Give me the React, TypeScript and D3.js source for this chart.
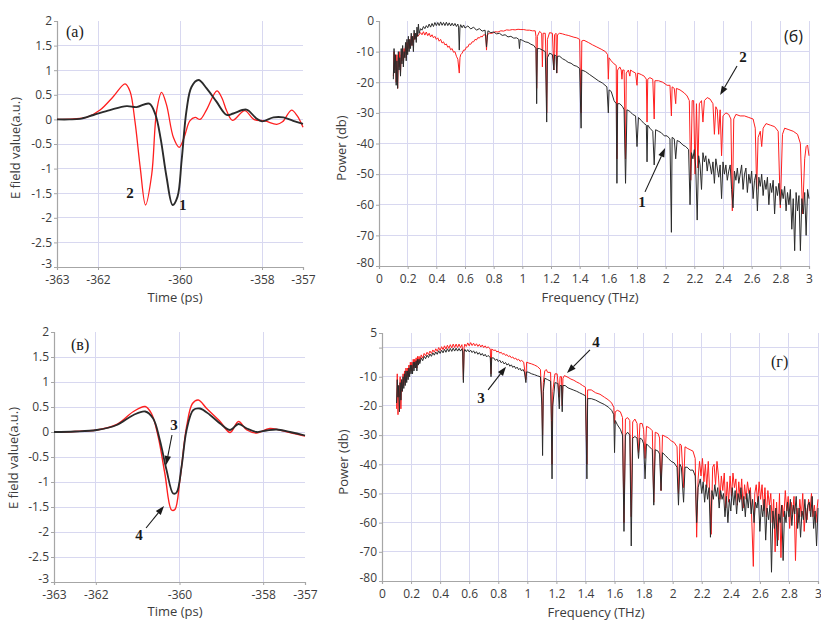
import React, { useRef, useEffect } from "react";
import * as d3 from "d3";

// axis ticks
const timeTicks = [-363, -362, -360, -358, -357];
const timeGrid = [-362, -360, -358];
const fieldTicks = [-3, -2.5, -2, -1.5, -1, -0.5, 0, 0.5, 1, 1.5, 2];
const freqTicks = [0, 0.2, 0.4, 0.6, 0.8, 1, 1.2, 1.4, 1.6, 1.8, 2, 2.2, 2.4, 2.6, 2.8, 3];
const powerTicksB = [0, -10, -20, -30, -40, -50, -60, -70, -80];
const powerTicksG = [5, 0, -10, -20, -30, -40, -50, -60, -70, -80];

// (a) time-domain pulses, [time ps, field a.u.]
const pulse1 = [[-363, 0], [-362.7, 0], [-362.44, 0.01], [-362.11, 0.09], [-361.71, 0.19], [-361.3, 0.27], [-361.06, 0.25], [-360.75, 0.32], [-360.6, 0.1], [-360.47, -0.4], [-360.33, -1.16], [-360.18, -1.74], [-360.06, -1.57], [-359.96, -0.83], [-359.84, 0.19], [-359.72, 0.66], [-359.55, 0.8], [-359.35, 0.63], [-359.11, 0.36], [-358.86, 0.09], [-358.7, 0.12], [-358.38, 0.2], [-358.15, 0.03], [-358.0, -0.04], [-357.72, 0.04], [-357.48, 0.04], [-357.24, -0.03], [-357, -0.09]];
const pulse2 = [[-363, 0], [-362.6, 0.01], [-362.28, 0.04], [-361.95, 0.19], [-361.63, 0.46], [-361.34, 0.72], [-361.22, 0.57], [-361.1, -0.03], [-360.97, -0.98], [-360.84, -1.74], [-360.69, -1.12], [-360.57, 0.17], [-360.45, 0.55], [-360.33, 0.3], [-360.16, -0.37], [-360.02, -0.57], [-359.9, -0.37], [-359.76, -0.03], [-359.63, 0.04], [-359.51, 0.0], [-359.35, 0.2], [-359.1, 0.58], [-358.98, 0.44], [-358.86, 0.17], [-358.72, -0.02], [-358.42, 0.18], [-358.2, 0.0], [-357.93, -0.03], [-357.64, -0.1], [-357.5, -0.05], [-357.28, 0.19], [-357.14, 0.07], [-357, -0.16]];

// (в) time-domain pulses
const pulse3 = [[-363, 0], [-362.5, 0.01], [-361.98, 0.04], [-361.5, 0.14], [-361.1, 0.34], [-360.82, 0.41], [-360.63, 0.27], [-360.47, -0.16], [-360.31, -0.76], [-360.15, -1.23], [-360.07, -1.21], [-359.95, -0.69], [-359.83, 0.04], [-359.67, 0.44], [-359.51, 0.47], [-359.27, 0.34], [-359.03, 0.17], [-358.79, 0.04], [-358.59, 0.16], [-358.39, 0.07], [-358.15, 0.0], [-357.92, 0.03], [-357.68, 0.05], [-357.36, 0.0], [-357, -0.07]];
const pulse4 = [[-363, 0], [-362.5, 0.01], [-361.98, 0.04], [-361.5, 0.15], [-361.1, 0.41], [-360.82, 0.51], [-360.67, 0.37], [-360.51, -0.09], [-360.35, -0.83], [-360.19, -1.56], [-360.11, -1.55], [-359.99, -0.96], [-359.83, 0.11], [-359.69, 0.57], [-359.55, 0.64], [-359.35, 0.47], [-359.03, 0.21], [-358.79, -0.01], [-358.59, 0.21], [-358.39, 0.04], [-358.15, -0.02], [-357.84, 0.07], [-357.36, -0.01], [-357, -0.08]];

// (б) spectra, [freq THz, power dB]
const spec1 = [[0.10, -19], [0.105, -9], [0.11, -17], [0.115, -11], [0.12, -21], [0.125, -13], [0.13, -22], [0.135, -10], [0.14, -16], [0.145, -12], [0.15, -18], [0.155, -9], [0.16, -14], [0.165, -8], [0.17, -15], [0.175, -10], [0.18, -12], [0.185, -7], [0.19, -13], [0.195, -6], [0.2, -11], [0.205, -5], [0.21, -10], [0.215, -6], [0.22, -9], [0.225, -4], [0.23, -8], [0.235, -5], [0.24, -10], [0.245, -3], [0.25, -6], [0.255, -4], [0.26, -7], [0.265, -2], [0.27, -5], [0.275, -1], [0.28, -4], [0.29, -2.5], [0.30, -3], [0.31, -1.8], [0.32, -2.5], [0.33, -1.5], [0.34, -2.2], [0.35, -1], [0.36, -2], [0.37, -0.8], [0.38, -1.8], [0.39, -0.5], [0.40, -1.5], [0.41, -0.5], [0.42, -1.5], [0.43, -0.3], [0.44, -1.4], [0.45, -0.5], [0.46, -1.5], [0.47, -0.4], [0.48, -1.5], [0.49, -0.6], [0.50, -1.6], [0.51, -0.7], [0.52, -1.6], [0.53, -0.8], [0.54, -1.8], [0.55, -1], [0.555, -2], [0.56, -9.5], [0.565, -2], [0.57, -1.2], [0.58, -2.2], [0.59, -1.3], [0.60, -2.3], [0.62, -1.6], [0.64, -2.6], [0.66, -2], [0.68, -3], [0.70, -2.5], [0.72, -3.3], [0.74, -3], [0.75, -8.5], [0.76, -3.2], [0.78, -3.8], [0.80, -3.6], [0.82, -4.2], [0.84, -4], [0.86, -4.7], [0.88, -4.5], [0.90, -5.2], [0.92, -5], [0.94, -5.6], [0.96, -5.5], [0.975, -6], [0.98, -9], [0.985, -6], [1.0, -6.3], [1.02, -6.8], [1.04, -7], [1.06, -7.6], [1.08, -8], [1.095, -9], [1.10, -27], [1.105, -9], [1.12, -9], [1.14, -9.5], [1.16, -10], [1.165, -20], [1.17, -33], [1.175, -12], [1.19, -10.5], [1.21, -11], [1.22, -16], [1.225, -11], [1.235, -11.5], [1.24, -17], [1.245, -11.5], [1.26, -11.5], [1.28, -12.3], [1.30, -12.8], [1.32, -13.5], [1.34, -13.8], [1.36, -14.5], [1.38, -14.8], [1.40, -15.5], [1.41, -35], [1.415, -16], [1.44, -16.5], [1.47, -17.5], [1.50, -18.5], [1.53, -19.5], [1.56, -20.3], [1.59, -21.5], [1.60, -30], [1.605, -22.5], [1.62, -23], [1.64, -26], [1.655, -27], [1.66, -53], [1.665, -27], [1.68, -27], [1.70, -28], [1.71, -29], [1.72, -53], [1.73, -29], [1.75, -29.5], [1.77, -30.5], [1.79, -31], [1.80, -41], [1.81, -31.5], [1.83, -32.5], [1.85, -33.5], [1.865, -34], [1.87, -46], [1.875, -34], [1.89, -35], [1.91, -36], [1.92, -47], [1.93, -35.5], [1.95, -36], [1.97, -36.5], [1.99, -37.5], [2.01, -37.5], [2.03, -38.5], [2.04, -69], [2.045, -38], [2.06, -38.5], [2.07, -45], [2.08, -39], [2.10, -39.5], [2.12, -40.5], [2.14, -41], [2.16, -42], [2.17, -60], [2.18, -43], [2.19, -45], [2.20, -42], [2.21, -48], [2.22, -65], [2.23, -44], [2.24, -47], [2.25, -55], [2.26, -43], [2.27, -46], [2.28, -44], [2.29, -49], [2.30, -45], [2.31, -47], [2.32, -50], [2.33, -46], [2.34, -53], [2.35, -45], [2.36, -48], [2.37, -51], [2.38, -47], [2.39, -58], [2.40, -46], [2.41, -50], [2.42, -47], [2.43, -52], [2.44, -49], [2.45, -47], [2.46, -55], [2.47, -61], [2.48, -49], [2.49, -52], [2.50, -48], [2.51, -53], [2.52, -50], [2.53, -47], [2.54, -55], [2.55, -50], [2.56, -48], [2.57, -56], [2.58, -50], [2.59, -53], [2.60, -49], [2.61, -58], [2.62, -52], [2.63, -50], [2.64, -62], [2.65, -51], [2.66, -54], [2.67, -50], [2.68, -57], [2.69, -52], [2.70, -55], [2.71, -51], [2.72, -60], [2.73, -53], [2.74, -56], [2.75, -52], [2.76, -63], [2.77, -54], [2.78, -57], [2.79, -53], [2.80, -60], [2.81, -55], [2.82, -58], [2.83, -54], [2.84, -62], [2.85, -56], [2.86, -60], [2.87, -55], [2.88, -68], [2.89, -58], [2.90, -75], [2.91, -56], [2.92, -62], [2.93, -57], [2.94, -75], [2.95, -58], [2.96, -63], [2.97, -56], [2.98, -70], [2.99, -55], [3.0, -58]];
const spec2 = [[0.10, -18], [0.105, -10], [0.11, -16], [0.115, -12], [0.12, -20], [0.125, -11], [0.13, -22], [0.135, -12], [0.14, -15], [0.145, -10], [0.15, -17], [0.155, -11], [0.16, -13], [0.165, -9], [0.17, -14], [0.175, -9], [0.18, -11], [0.185, -8], [0.19, -12], [0.195, -7], [0.2, -10], [0.205, -6], [0.21, -9], [0.215, -6], [0.22, -8], [0.225, -5], [0.23, -8], [0.235, -5], [0.24, -7], [0.245, -4], [0.25, -6], [0.255, -5], [0.26, -6], [0.265, -4], [0.27, -5], [0.28, -4.5], [0.29, -3.8], [0.30, -4.5], [0.31, -3.5], [0.32, -4.6], [0.33, -3.6], [0.34, -4.8], [0.35, -4], [0.36, -5.2], [0.37, -4.5], [0.38, -5.5], [0.39, -5], [0.40, -6], [0.41, -5.5], [0.42, -6.6], [0.43, -6], [0.44, -7.2], [0.45, -6.8], [0.46, -7.8], [0.47, -7.5], [0.48, -8.6], [0.49, -8.2], [0.50, -9.4], [0.51, -9], [0.52, -10.2], [0.53, -10], [0.54, -11.5], [0.55, -12.5], [0.56, -17], [0.565, -12], [0.57, -11], [0.58, -10.5], [0.59, -9.5], [0.60, -9.5], [0.61, -8.5], [0.62, -8.5], [0.63, -7.5], [0.64, -7.6], [0.65, -6.8], [0.66, -6.8], [0.67, -6], [0.68, -6.2], [0.69, -5.4], [0.70, -5.6], [0.71, -5], [0.72, -5.2], [0.73, -4.5], [0.745, -4.6], [0.75, -9.5], [0.755, -4.5], [0.77, -4], [0.79, -4], [0.81, -3.5], [0.83, -3.6], [0.85, -3.2], [0.87, -3.3], [0.89, -2.9], [0.91, -3], [0.93, -2.8], [0.95, -2.9], [0.97, -2.7], [0.99, -2.8], [1.01, -2.8], [1.03, -3], [1.05, -3], [1.07, -3.2], [1.09, -3.2], [1.095, -5], [1.10, -22], [1.105, -5], [1.12, -3.4], [1.135, -4], [1.14, -15], [1.145, -4], [1.16, -4], [1.165, -12], [1.17, -30], [1.175, -6], [1.19, -3.8], [1.21, -4], [1.22, -16], [1.225, -4.5], [1.235, -4], [1.24, -17], [1.245, -4.5], [1.26, -4], [1.28, -4.2], [1.30, -4.5], [1.32, -4.7], [1.34, -5], [1.36, -5.3], [1.38, -5.5], [1.40, -6], [1.41, -30], [1.415, -6.5], [1.43, -6.3], [1.46, -7], [1.49, -7.8], [1.52, -8.5], [1.55, -9.2], [1.58, -10], [1.595, -11], [1.60, -19], [1.605, -12], [1.62, -13], [1.64, -14], [1.655, -14.5], [1.66, -45], [1.665, -16], [1.68, -15], [1.69, -16], [1.695, -19], [1.70, -16], [1.71, -16], [1.72, -45], [1.725, -17], [1.74, -16], [1.75, -18], [1.755, -16], [1.77, -16.5], [1.79, -17], [1.80, -21], [1.805, -17], [1.83, -17.5], [1.85, -18], [1.865, -19], [1.87, -33], [1.875, -19], [1.89, -18.5], [1.91, -19], [1.92, -32], [1.925, -19.5], [1.95, -19.5], [1.98, -20], [2.01, -21], [2.03, -21], [2.04, -31], [2.045, -21.5], [2.06, -22], [2.07, -27], [2.075, -22], [2.10, -22.5], [2.13, -23.5], [2.15, -24.5], [2.165, -26], [2.175, -52], [2.185, -26], [2.195, -26], [2.205, -50], [2.215, -27], [2.225, -48], [2.235, -27], [2.25, -26], [2.26, -33], [2.27, -26], [2.29, -25], [2.31, -25.5], [2.33, -27], [2.34, -37], [2.35, -28], [2.36, -29], [2.37, -37], [2.38, -29], [2.39, -44], [2.40, -31], [2.42, -30], [2.44, -30.5], [2.455, -32], [2.465, -62], [2.475, -32], [2.49, -30.5], [2.52, -31], [2.55, -31], [2.58, -31.5], [2.61, -32], [2.625, -35], [2.635, -55], [2.645, -38], [2.66, -36], [2.67, -41], [2.68, -35], [2.70, -33.5], [2.73, -34], [2.76, -34.5], [2.785, -36], [2.80, -61], [2.815, -37], [2.83, -35], [2.86, -35.5], [2.89, -36], [2.92, -37], [2.94, -40], [2.955, -63], [2.97, -45], [2.98, -41], [2.99, -40.5], [3.0, -44]];

// (г) spectra
const spec3 = [[0.10, -19], [0.105, -11], [0.11, -17], [0.115, -13], [0.12, -22], [0.125, -12], [0.13, -18], [0.135, -11], [0.14, -15], [0.145, -10], [0.15, -14], [0.155, -9], [0.16, -13], [0.165, -8], [0.17, -12], [0.175, -8], [0.18, -11], [0.185, -7], [0.19, -10], [0.195, -6], [0.20, -9], [0.205, -6], [0.21, -9], [0.215, -5], [0.22, -8], [0.225, -5], [0.23, -7], [0.235, -4.5], [0.24, -8], [0.245, -4], [0.25, -6], [0.255, -4], [0.26, -5.5], [0.27, -3.5], [0.28, -4.5], [0.29, -3], [0.30, -3.8], [0.31, -2.6], [0.32, -3.4], [0.33, -2.2], [0.34, -3], [0.35, -1.8], [0.36, -2.6], [0.37, -1.5], [0.38, -2.3], [0.39, -1.1], [0.40, -2], [0.41, -0.9], [0.42, -1.8], [0.43, -0.6], [0.44, -1.6], [0.45, -0.4], [0.46, -1.4], [0.47, -0.3], [0.48, -1.3], [0.49, -0.2], [0.50, -1.2], [0.51, -0.2], [0.52, -1.2], [0.53, -0.3], [0.54, -1.2], [0.55, -0.4], [0.555, -1.5], [0.56, -12], [0.565, -1.5], [0.57, -0.6], [0.58, -1.4], [0.59, -0.7], [0.60, -1.5], [0.61, -0.9], [0.62, -1.7], [0.63, -1.1], [0.64, -2], [0.65, -1.4], [0.66, -2.3], [0.67, -1.7], [0.68, -2.6], [0.69, -2], [0.70, -2.9], [0.71, -2.3], [0.72, -3.2], [0.73, -2.7], [0.745, -3.4], [0.75, -10], [0.755, -3.5], [0.77, -3.6], [0.78, -4.4], [0.79, -3.9], [0.80, -4.8], [0.81, -4.3], [0.82, -5.2], [0.83, -4.7], [0.84, -5.6], [0.85, -5.1], [0.86, -6], [0.87, -5.5], [0.88, -6.4], [0.89, -5.9], [0.90, -6.8], [0.91, -6.3], [0.92, -7.2], [0.93, -6.7], [0.94, -7.6], [0.95, -7.1], [0.96, -8], [0.97, -7.5], [0.98, -8.4], [0.99, -12], [0.995, -8.3], [1.01, -8.5], [1.03, -9], [1.05, -9.3], [1.07, -9.7], [1.09, -10], [1.10, -20], [1.105, -37], [1.11, -15], [1.12, -10.5], [1.14, -11], [1.16, -11.5], [1.165, -25], [1.17, -45], [1.175, -20], [1.19, -12], [1.21, -12.3], [1.22, -21], [1.225, -13], [1.235, -13], [1.24, -22], [1.245, -13], [1.26, -13], [1.28, -13.8], [1.30, -14.2], [1.32, -14.6], [1.34, -15], [1.36, -15.5], [1.38, -16], [1.40, -16.5], [1.41, -45], [1.415, -17.5], [1.44, -17.5], [1.47, -18], [1.50, -18.8], [1.53, -19.5], [1.56, -20.5], [1.58, -21.5], [1.595, -23], [1.60, -36], [1.605, -25], [1.62, -26.5], [1.64, -28], [1.655, -30], [1.665, -63], [1.675, -30], [1.69, -29], [1.705, -30], [1.715, -68], [1.725, -31], [1.74, -30.5], [1.755, -31], [1.765, -38], [1.775, -31], [1.79, -31.5], [1.80, -33], [1.81, -45], [1.82, -33], [1.84, -34], [1.86, -35], [1.87, -54], [1.88, -35], [1.90, -35.5], [1.91, -36.5], [1.92, -49], [1.93, -36], [1.95, -37], [1.97, -38], [1.99, -39], [2.01, -39.5], [2.03, -41], [2.04, -54], [2.05, -40], [2.06, -41], [2.075, -53], [2.085, -41], [2.10, -41], [2.12, -42], [2.14, -42], [2.155, -44], [2.165, -60], [2.175, -48], [2.19, -45], [2.20, -50], [2.21, -46], [2.22, -53], [2.23, -47], [2.24, -52], [2.25, -48], [2.26, -65], [2.27, -49], [2.28, -52], [2.29, -47], [2.30, -51], [2.31, -48], [2.32, -55], [2.33, -49], [2.34, -52], [2.35, -50], [2.36, -58], [2.37, -51], [2.38, -60], [2.39, -52], [2.40, -56], [2.41, -48], [2.42, -54], [2.43, -49], [2.44, -57], [2.45, -50], [2.46, -53], [2.47, -48], [2.48, -56], [2.49, -51], [2.50, -58], [2.51, -50], [2.52, -55], [2.53, -49], [2.54, -57], [2.55, -52], [2.56, -60], [2.57, -53], [2.58, -55], [2.59, -51], [2.60, -63], [2.61, -54], [2.62, -58], [2.63, -52], [2.64, -66], [2.65, -55], [2.66, -59], [2.67, -54], [2.68, -77], [2.69, -56], [2.70, -62], [2.71, -55], [2.72, -68], [2.73, -57], [2.74, -60], [2.75, -54], [2.76, -73], [2.77, -56], [2.78, -60], [2.79, -53], [2.80, -58], [2.81, -52], [2.82, -61], [2.83, -54], [2.84, -57], [2.85, -51], [2.86, -62], [2.87, -55], [2.88, -65], [2.89, -56], [2.90, -59], [2.91, -52], [2.92, -60], [2.93, -54], [2.94, -53], [2.95, -58], [2.96, -51], [2.97, -62], [2.98, -56], [2.99, -68], [3.0, -55]];
const spec4 = [[0.10, -21], [0.105, -9], [0.11, -23], [0.115, -13], [0.12, -17], [0.125, -10], [0.13, -21], [0.135, -11], [0.14, -15], [0.145, -9], [0.15, -13], [0.155, -8], [0.16, -12], [0.165, -7], [0.17, -11], [0.175, -7], [0.18, -10], [0.185, -6], [0.19, -9], [0.195, -5], [0.20, -8], [0.205, -5], [0.21, -8], [0.215, -4], [0.22, -7], [0.225, -4], [0.23, -6], [0.235, -3.5], [0.24, -7], [0.245, -3], [0.25, -5], [0.255, -3], [0.26, -4.5], [0.27, -2.5], [0.28, -3.6], [0.29, -2], [0.30, -2.8], [0.31, -1.6], [0.32, -2.4], [0.33, -1.2], [0.34, -2], [0.35, -0.8], [0.36, -1.6], [0.37, -0.4], [0.38, -1.3], [0.39, 0], [0.40, -1], [0.41, 0.3], [0.42, -0.7], [0.43, 0.6], [0.44, -0.5], [0.45, 0.8], [0.46, -0.3], [0.47, 1], [0.48, -0.1], [0.49, 1.2], [0.50, 0], [0.51, 1.2], [0.52, 0], [0.53, 1.2], [0.54, 0], [0.55, 1], [0.555, -1], [0.56, -11], [0.565, 0], [0.57, 1.2], [0.58, 0.4], [0.59, 1.6], [0.60, 0.6], [0.61, 1.7], [0.62, 0.7], [0.63, 1.5], [0.64, 0.6], [0.65, 1.3], [0.66, 0.4], [0.67, 1.1], [0.68, 0.2], [0.69, 0.9], [0.70, 0], [0.71, 0.6], [0.72, -0.2], [0.73, 0.3], [0.745, -0.5], [0.75, -9], [0.755, -0.5], [0.77, -1], [0.78, -0.8], [0.79, -1.5], [0.80, -1.2], [0.81, -1.9], [0.82, -1.6], [0.83, -2.3], [0.84, -2], [0.85, -2.7], [0.86, -2.4], [0.87, -3.1], [0.88, -2.8], [0.89, -3.5], [0.90, -3.2], [0.91, -3.9], [0.92, -3.6], [0.93, -4.3], [0.94, -4], [0.95, -4.7], [0.96, -4.4], [0.975, -5], [0.99, -11], [0.995, -5], [1.01, -5.3], [1.03, -5.6], [1.05, -6], [1.07, -6.5], [1.09, -7.5], [1.10, -18], [1.105, -30], [1.11, -12], [1.12, -8], [1.13, -7.5], [1.14, -8.5], [1.16, -8.5], [1.165, -20], [1.17, -40], [1.175, -15], [1.19, -9], [1.205, -9], [1.22, -17], [1.225, -10], [1.235, -10], [1.24, -20], [1.245, -10.5], [1.255, -9.6], [1.28, -10.2], [1.30, -10.8], [1.32, -11.2], [1.34, -11.8], [1.36, -12.3], [1.38, -13], [1.40, -13.6], [1.41, -40], [1.415, -14.5], [1.44, -14.5], [1.47, -15.5], [1.50, -16], [1.53, -17], [1.56, -18], [1.58, -19], [1.595, -20.5], [1.60, -26], [1.605, -22], [1.62, -21.5], [1.64, -22], [1.655, -24], [1.665, -60], [1.675, -24.5], [1.69, -24], [1.705, -25], [1.715, -58], [1.725, -25.5], [1.74, -24.5], [1.755, -26], [1.765, -36], [1.775, -26], [1.79, -26], [1.80, -28], [1.81, -38], [1.82, -27], [1.84, -27.5], [1.86, -28.5], [1.87, -53], [1.88, -29], [1.90, -29.5], [1.91, -31], [1.92, -49], [1.93, -30], [1.95, -30.5], [1.97, -31], [1.99, -32], [2.01, -32.5], [2.03, -34], [2.04, -50], [2.05, -33], [2.06, -33.5], [2.075, -48], [2.085, -34], [2.10, -34.5], [2.12, -35], [2.14, -35.5], [2.155, -38], [2.165, -65], [2.175, -45], [2.185, -39], [2.195, -44], [2.205, -38], [2.215, -46], [2.225, -40], [2.235, -48], [2.245, -39], [2.255, -50], [2.265, -64], [2.275, -41], [2.285, -40], [2.295, -47], [2.305, -39], [2.315, -44], [2.325, -52], [2.335, -44], [2.345, -49], [2.355, -43], [2.365, -55], [2.375, -46], [2.385, -53], [2.395, -44], [2.405, -51], [2.415, -43], [2.425, -48], [2.435, -45], [2.445, -54], [2.455, -46], [2.465, -52], [2.475, -45], [2.485, -55], [2.495, -47], [2.505, -52], [2.515, -46], [2.525, -50], [2.535, -48], [2.545, -60], [2.555, -75], [2.565, -50], [2.575, -47], [2.585, -53], [2.595, -46], [2.605, -52], [2.615, -47], [2.625, -56], [2.635, -48], [2.645, -58], [2.655, -49], [2.665, -54], [2.675, -50], [2.685, -60], [2.695, -52], [2.705, -70], [2.715, -53], [2.725, -66], [2.735, -50], [2.745, -72], [2.755, -54], [2.765, -58], [2.775, -49], [2.785, -56], [2.795, -51], [2.805, -62], [2.815, -53], [2.825, -57], [2.835, -51], [2.845, -73], [2.855, -55], [2.865, -60], [2.875, -52], [2.885, -58], [2.895, -50], [2.905, -63], [2.915, -55], [2.925, -59], [2.935, -52], [2.945, -56], [2.955, -50], [2.965, -58], [2.975, -54], [2.985, -60], [3.0, -52]];

const GRID = "#d8d8f0";
const AXIS = "#a6a6a6";
const TEXT = "#3c3c3c";
const RED = "#ff1f1f";
const BLACK = "#2b2b2b";
const SANS = "'Open Sans', 'Noto Sans', sans-serif";
const SERIF = "'Liberation Serif', 'DejaVu Serif', serif";

function drawPanel(svg, p) {
    const x = d3.scaleLinear().domain(p.xDomain).range([p.left, p.right]);
    const y = d3.scaleLinear().domain(p.yDomain).range([p.bottom, p.top]);
    const g = svg.append("g");

    g.selectAll(".gx").data(p.xGrid).enter().append("line")
        .attr("x1", d => x(d)).attr("x2", d => x(d))
        .attr("y1", p.top).attr("y2", p.bottom)
        .attr("stroke", GRID).attr("shape-rendering", "crispEdges");
    g.selectAll(".gy").data(p.yGrid).enter().append("line")
        .attr("x1", p.left).attr("x2", p.right)
        .attr("y1", d => y(d)).attr("y2", d => y(d))
        .attr("stroke", GRID).attr("shape-rendering", "crispEdges");

    const yAxis = g.append("g")
        .attr("transform", `translate(${p.left},0)`)
        .call(d3.axisLeft(y).tickValues(p.yTicks).tickSize(3).tickPadding(2)
            .tickFormat(d => (p.yHide || []).includes(d) ? "" : String(d)));
    const xAxis = g.append("g")
        .attr("transform", `translate(0,${p.bottom})`)
        .call(d3.axisBottom(x).tickValues(p.xTicks).tickSize(3).tickPadding(5)
            .tickFormat(d => String(d)));
    [xAxis, yAxis].forEach(a => {
        a.select(".domain").attr("stroke", AXIS).attr("stroke-width", 1.2);
        a.selectAll(".tick line").attr("stroke", AXIS);
        a.selectAll("text").attr("fill", TEXT)
            .style("font-family", SANS).style("font-size", "12px");
    });
    // lift the lowest y label so it clears the first x label
    yAxis.selectAll(".tick").filter(d => d === p.yDomain[0]).select("text").attr("dy", "0em");

    p.series.forEach(s => {
        const line = d3.line().x(d => x(d[0])).y(d => y(d[1])).curve(s.curve || d3.curveLinear);
        g.append("path").datum(s.data)
            .attr("d", line)
            .attr("fill", "none")
            .attr("stroke", s.color)
            .attr("stroke-width", s.width)
            .attr("stroke-linejoin", "round");
    });

    g.append("text")
        .attr("x", p.xTitle[0]).attr("y", p.xTitle[1])
        .attr("text-anchor", "middle").attr("fill", TEXT)
        .style("font-family", SANS).style("font-size", "13px")
        .text(p.xLabel);
    g.append("text")
        .attr("transform", `translate(${p.yTitle[0]},${p.yTitle[1]}) rotate(-90)`)
        .attr("text-anchor", "middle").attr("dominant-baseline", "middle").attr("fill", TEXT)
        .style("font-family", SANS).style("font-size", "13px")
        .text(p.yLabel);

    g.append("text")
        .attr("x", p.tag[0]).attr("y", p.tag[1])
        .attr("fill", "#1a1a1a")
        .style("font-family", p.tagFont).style("font-size", "16px")
        .text(p.tagText);

    p.notes.forEach(n => {
        g.append("text")
            .attr("x", x(n.at[0])).attr("y", y(n.at[1]))
            .attr("text-anchor", "middle").attr("fill", "#1a1a1a")
            .style("font-family", SERIF).style("font-size", "15px").style("font-weight", "bold")
            .text(n.label);
        if (n.from) {
            const x1 = x(n.from[0]), y1 = y(n.from[1]);
            const x2 = x(n.to[0]), y2 = y(n.to[1]);
            const ang = Math.atan2(y2 - y1, x2 - x1);
            const L = 9, W = 3.2;
            const bx = x2 - L * Math.cos(ang), by = y2 - L * Math.sin(ang);
            g.append("line")
                .attr("x1", x1).attr("y1", y1).attr("x2", bx).attr("y2", by)
                .attr("stroke", "#1a1a1a").attr("stroke-width", 1.1);
            g.append("path")
                .attr("d", `M${x2},${y2}L${bx - W * Math.sin(ang)},${by + W * Math.cos(ang)}L${bx + W * Math.sin(ang)},${by - W * Math.cos(ang)}Z`)
                .attr("fill", "#1a1a1a");
        }
    });
}

function Figure() {
    const svgRef = useRef(null);
    useEffect(() => {
        const svg = d3.select(svgRef.current);
        svg.selectAll("*").remove();
        const smooth = d3.curveCatmullRom.alpha(0.5);

        drawPanel(svg, {
            left: 57, right: 303, top: 21, bottom: 267,
            xDomain: [-363, -357], yDomain: [-3, 2],
            xTicks: timeTicks, xGrid: timeGrid,
            yTicks: fieldTicks, yGrid: fieldTicks.filter(v => v > -3 && v < 2),
            series: [
                { data: pulse2, color: RED, width: 1.3, curve: smooth },
                { data: pulse1, color: BLACK, width: 1.9, curve: smooth },
            ],
            xLabel: "Time (ps)", xTitle: [175, 302],
            yLabel: "E field value(a.u.)", yTitle: [17, 148],
            tagText: "(a)", tag: [66, 37], tagFont: SERIF,
            notes: [
                { label: "2", at: [-361.22, -1.6] },
                { label: "1", at: [-359.93, -1.84] },
            ],
        });

        drawPanel(svg, {
            left: 379, right: 809, top: 21, bottom: 266,
            xDomain: [0, 3], yDomain: [-80, 0],
            xTicks: freqTicks, xGrid: freqTicks.filter(v => v > 0),
            yTicks: powerTicksB, yGrid: powerTicksB.filter(v => v < 0 && v > -80),
            series: [
                { data: spec2, color: RED, width: 1 },
                { data: spec1, color: BLACK, width: 1 },
            ],
            xLabel: "Frequency (THz)", xTitle: [590, 302],
            yLabel: "Power (db)", yTitle: [343, 148],
            tagText: "(б)", tag: [784, 42], tagFont: SANS,
            notes: [
                { label: "2", at: [2.54, -13.4], from: [2.498, -14.7], to: [2.38, -24.2] },
                { label: "1", at: [1.835, -60.7], from: [1.856, -55.8], to: [1.996, -41.5] },
            ],
        });

        drawPanel(svg, {
            left: 54, right: 305, top: 332, bottom: 582,
            xDomain: [-363, -357], yDomain: [-3, 2],
            xTicks: timeTicks, xGrid: timeGrid,
            yTicks: fieldTicks, yGrid: fieldTicks.filter(v => v > -3 && v < 2),
            series: [
                { data: pulse4, color: RED, width: 1.4, curve: smooth },
                { data: pulse3, color: BLACK, width: 1.8, curve: smooth },
            ],
            xLabel: "Time (ps)", xTitle: [175, 616],
            yLabel: "E field value(a.u.)", yTitle: [15, 458],
            tagText: "(в)", tag: [71, 350], tagFont: SERIF,
            notes: [
                { label: "3", at: [-360.13, 0.04], from: [-360.18, -0.06], to: [-360.32, -0.66] },
                { label: "4", at: [-360.97, -2.16], from: [-360.8, -1.92], to: [-360.37, -1.48] },
            ],
        });

        drawPanel(svg, {
            left: 382, right: 818, top: 333, bottom: 581,
            xDomain: [0, 3], yDomain: [-80, 5],
            xTicks: freqTicks, xGrid: freqTicks.filter(v => v > 0),
            yTicks: powerTicksG, yHide: [0], yGrid: powerTicksG.filter(v => v <= 0 && v > -80),
            series: [
                { data: spec4, color: RED, width: 1 },
                { data: spec3, color: BLACK, width: 1 },
            ],
            xLabel: "Frequency (THz)", xTitle: [596, 617],
            yLabel: "Power (db)", yTitle: [345, 462],
            tagText: "(г)", tag: [771, 367], tagFont: SERIF,
            notes: [
                { label: "4", at: [1.473, 0.2], from: [1.431, -0.8], to: [1.273, -8.7] },
                { label: "3", at: [0.681, -19], from: [0.73, -14.5], to: [0.853, -6.6] },
            ],
        });
    }, []);

    return (
        <svg ref={svgRef} width={821} height={621}
            style={{ position: "absolute", left: 0, top: 0, background: "#fff" }} />
    );
}

export default function App() {
    return <Figure />;
}
